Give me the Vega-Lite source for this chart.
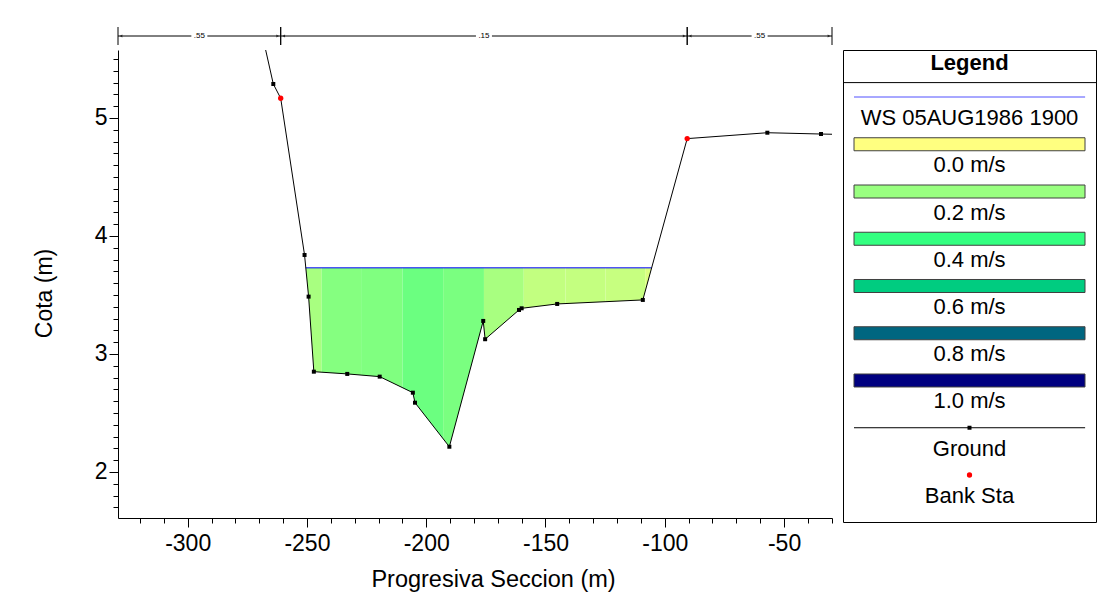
{
  "$schema": "https://vega.github.io/schema/vega-lite/v6.json",
  "background": "white",
  "padding": {"left": 33, "top": 26, "right": 5, "bottom": 5},
  "config": {"font": "Liberation Sans", "view": {"stroke": null}},
  "columns": 2,
  "spacing": {"row": 1, "column": 9},
  "datasets": {
    "ground": [
      {"x": -268.9, "z": 5.72, "bank": false},
      {"x": -264.1, "z": 5.288, "bank": false},
      {"x": -261.0, "z": 5.167, "bank": true},
      {"x": -251.0, "z": 3.839, "bank": false},
      {"x": -249.3, "z": 3.486, "bank": false},
      {"x": -247.1, "z": 2.85, "bank": false},
      {"x": -233.1, "z": 2.831, "bank": false},
      {"x": -219.5, "z": 2.808, "bank": false},
      {"x": -205.6, "z": 2.672, "bank": false},
      {"x": -204.7, "z": 2.587, "bank": false},
      {"x": -190.3, "z": 2.214, "bank": false},
      {"x": -176.1, "z": 3.28, "bank": false},
      {"x": -175.3, "z": 3.125, "bank": false},
      {"x": -161.1, "z": 3.373, "bank": false},
      {"x": -160.0, "z": 3.387, "bank": false},
      {"x": -145.1, "z": 3.424, "bank": false},
      {"x": -109.2, "z": 3.458, "bank": false},
      {"x": -90.6, "z": 4.825, "bank": true},
      {"x": -57.0, "z": 4.875, "bank": false},
      {"x": -34.5, "z": 4.864, "bank": false},
      {"x": -25.0, "z": 4.86, "bank": false}
    ],
    "strips": [
      {"x": -250.5, "xe": -243.8, "z": 3.73, "v": 0.17},
      {"x": -243.8, "xe": -227.3, "z": 3.73, "v": 0.24},
      {"x": -227.3, "xe": -209.9, "z": 3.73, "v": 0.25},
      {"x": -209.9, "xe": -192.9, "z": 3.73, "v": 0.29},
      {"x": -192.9, "xe": -175.8, "z": 3.73, "v": 0.26},
      {"x": -175.8, "xe": -159.1, "z": 3.73, "v": 0.17},
      {"x": -159.1, "xe": -141.6, "z": 3.73, "v": 0.12},
      {"x": -141.6, "xe": -124.9, "z": 3.73, "v": 0.115},
      {"x": -124.9, "xe": -108.2, "z": 3.73, "v": 0.11},
      {"x": -108.2, "xe": -105.5, "z": 3.73, "v": 0.07}
    ],
    "ws": [{"x": -250.5, "xe": -105.5, "z": 3.73}],
    "nvals": [
      {"x": -329.2, "xe": -261.0, "n": ".55"},
      {"x": -261.0, "xe": -90.6, "n": ".15"},
      {"x": -90.6, "xe": -29.9, "n": ".55"}
    ],
    "legend": [
      {"slot": 0, "kind": "ws", "label": "WS 05AUG1986 1900"},
      {"slot": 1, "kind": "vel", "v": 0.0, "label": "0.0 m/s"},
      {"slot": 2, "kind": "vel", "v": 0.2, "label": "0.2 m/s"},
      {"slot": 3, "kind": "vel", "v": 0.4, "label": "0.4 m/s"},
      {"slot": 4, "kind": "vel", "v": 0.6, "label": "0.6 m/s"},
      {"slot": 5, "kind": "vel", "v": 0.8, "label": "0.8 m/s"},
      {"slot": 6, "kind": "vel", "v": 1.0, "label": "1.0 m/s"},
      {"slot": 7, "kind": "ground", "label": "Ground"},
      {"slot": 8, "kind": "bank", "label": "Bank Sta"}
    ]
  },
  "concat": [
    {
      "width": 714,
      "height": 18,
      "data": {"name": "nvals"},
      "transform": [{"calculate": "(datum.x + datum.xe) / 2", "as": "mid"}],
      "encoding": {
        "x": {"field": "x", "type": "quantitative", "scale": {"domain": [-329.2, -29.9], "nice": false, "zero": false}, "axis": null}
      },
      "layer": [
        {"mark": {"type": "rule", "color": "black", "strokeWidth": 1},
         "encoding": {"x2": {"field": "xe"}, "y": {"datum": 0.5, "type": "quantitative", "scale": {"domain": [0, 1]}, "axis": null}}},
        {"mark": {"type": "rule", "color": "black", "strokeWidth": 1},
         "encoding": {"y": {"datum": 0, "type": "quantitative", "scale": {"domain": [0, 1]}, "axis": null}, "y2": {"datum": 1}}},
        {"mark": {"type": "rule", "color": "black", "strokeWidth": 1},
         "encoding": {"x": {"field": "xe", "type": "quantitative"}, "y": {"datum": 0, "type": "quantitative", "scale": {"domain": [0, 1]}, "axis": null}, "y2": {"datum": 1}}},
        {"mark": {"type": "point", "shape": "triangle-left", "filled": true, "color": "black", "size": 10, "xOffset": 3},
         "encoding": {"y": {"datum": 0.5, "type": "quantitative", "scale": {"domain": [0, 1]}, "axis": null}}},
        {"mark": {"type": "point", "shape": "triangle-right", "filled": true, "color": "black", "size": 10, "xOffset": -3},
         "encoding": {"x": {"field": "xe", "type": "quantitative"}, "y": {"datum": 0.5, "type": "quantitative", "scale": {"domain": [0, 1]}, "axis": null}}},
        {"mark": {"type": "point", "shape": "M-1,-0.5L1,-0.5L1,0.5L-1,0.5Z", "filled": true, "color": "white", "opacity": 1, "size": 256},
         "encoding": {"x": {"field": "mid", "type": "quantitative"}, "y": {"datum": 0.5, "type": "quantitative", "scale": {"domain": [0, 1]}, "axis": null}}},
        {"mark": {"type": "text", "fontSize": 8, "color": "black", "baseline": "middle", "align": "center"},
         "encoding": {"x": {"field": "mid", "type": "quantitative"}, "y": {"datum": 0.5, "type": "quantitative", "scale": {"domain": [0, 1]}, "axis": null}, "text": {"field": "n"}}}
      ]
    },
    {
      "width": 253,
      "height": 18,
      "data": {"values": []},
      "mark": "point",
      "encoding": {}
    },
    {
      "width": 714,
      "height": 468,
      "encoding": {
        "x": {
          "field": "x", "type": "quantitative",
          "scale": {"domain": [-329.2, -29.9], "nice": false, "zero": false},
          "axis": {
            "title": "Progresiva Seccion (m)",
            "values": [-320, -310, -300, -290, -280, -270, -260, -250, -240, -230, -220, -210, -200, -190, -180, -170, -160, -150, -140, -130, -120, -110, -100, -90, -80, -70, -60, -50, -40, -30],
            "labelExpr": "datum.value % 50 === 0 ? '' + datum.value : ''",
            "tickSize": {"condition": {"test": "datum.value % 50 !== 0", "value": 5}, "value": 9},
            "labelFontSize": 23, "titleFontSize": 23.5, "titleFontWeight": "normal",
            "labelColor": "black", "titleColor": "black", "tickColor": "black", "domainColor": "black",
            "grid": false, "labelPadding": 5, "titlePadding": 12, "titleX": 375, "labelFlush": false, "labelOverlap": false, "zindex": 1
          }
        },
        "y": {
          "field": "z", "type": "quantitative",
          "scale": {"domain": [1.61, 5.576], "nice": false, "zero": false},
          "axis": {
            "title": "Cota (m)",
            "values": [1.7, 1.8, 1.9, 2, 2.1, 2.2, 2.3, 2.4, 2.5, 2.6, 2.7, 2.8, 2.9, 3, 3.1, 3.2, 3.3, 3.4, 3.5, 3.6, 3.7, 3.8, 3.9, 4, 4.1, 4.2, 4.3, 4.4, 4.5, 4.6, 4.7, 4.8, 4.9, 5, 5.1, 5.2, 5.3, 5.4, 5.5],
            "labelExpr": "abs(datum.value - round(datum.value)) < 0.01 ? '' + round(datum.value) : ''",
            "tickSize": {"condition": {"test": "abs(datum.value - round(datum.value)) >= 0.01", "value": 5}, "value": 9},
            "labelFontSize": 23, "titleFontSize": 23, "titleFontWeight": "normal",
            "labelColor": "black", "titleColor": "black", "tickColor": "black", "domainColor": "black",
            "grid": false, "labelPadding": 2, "titlePadding": 38, "titleY": 243, "labelFlush": false, "labelOverlap": false, "zindex": 1
          }
        }
      },
      "layer": [
        {
          "data": {"name": "strips"},
          "mark": {"type": "rect", "clip": true},
          "encoding": {
            "x2": {"field": "xe"},
            "y2": {"datum": 2.1},
            "color": {
              "field": "v", "type": "quantitative",
              "scale": {"type": "linear", "domain": [0, 0.2, 0.4, 0.6, 0.8, 1.0], "range": ["#ffff80", "#99ff80", "#33ff80", "#00cc80", "#006680", "#000080"], "interpolate": "rgb"},
              "legend": null
            }
          }
        },
        {
          "data": {"name": "ground"},
          "mark": {"type": "area", "fill": "white", "clip": true},
          "encoding": {"y2": {"datum": 2.0}}
        },
        {
          "data": {"name": "ws"},
          "mark": {"type": "rule", "color": "#0000ff", "strokeWidth": 1},
          "encoding": {"x2": {"field": "xe"}}
        },
        {
          "data": {"name": "ground"},
          "mark": {"type": "line", "color": "black", "strokeWidth": 1, "clip": true}
        },
        {
          "data": {"name": "ground"},
          "transform": [{"filter": "!datum.bank"}],
          "mark": {"type": "point", "shape": "square", "filled": true, "color": "black", "size": 16, "opacity": 1, "clip": true}
        },
        {
          "data": {"name": "ground"},
          "transform": [{"filter": "datum.bank"}],
          "mark": {"type": "point", "shape": "circle", "filled": true, "color": "#ff0000", "size": 28, "opacity": 1, "clip": true}
        }
      ]
    },
    {
      "width": 253,
      "height": 472,
      "view": {"stroke": "black", "strokeWidth": 1},
      "data": {"name": "legend"},
      "layer": [
        {
          "data": {"values": [{"label": "Legend"}]},
          "mark": {"type": "text", "fontSize": 22, "fontWeight": "bold", "color": "black", "baseline": "middle", "align": "center"},
          "encoding": {
            "x": {"datum": 0.5, "type": "quantitative", "scale": {"domain": [0, 1]}, "axis": null},
            "y": {"datum": -0.713, "type": "quantitative", "scale": {"domain": [-0.995, 8.995], "reverse": true}, "axis": null},
            "text": {"field": "label"}
          }
        },
        {
          "data": {"values": [{"label": "sep"}]},
          "mark": {"type": "rule", "color": "black", "strokeWidth": 1},
          "encoding": {
            "y": {"datum": -0.305, "type": "quantitative", "scale": {"domain": [-0.995, 8.995], "reverse": true}, "axis": null}
          }
        },
        {
          "transform": [{"filter": "datum.kind === 'ws'"}],
          "mark": {"type": "rule", "color": "#5050ff", "strokeWidth": 1},
          "encoding": {
            "x": {"datum": 0.0435, "type": "quantitative", "scale": {"domain": [0, 1]}, "axis": null},
            "x2": {"datum": 0.957},
            "y": {"field": "slot", "type": "quantitative", "scale": {"domain": [-0.995, 8.995], "reverse": true}, "axis": null}
          }
        },
        {
          "transform": [{"filter": "datum.kind === 'vel'"}],
          "mark": {"type": "point", "shape": "M-1,-0.0563L1,-0.0563L1,0.0563L-1,0.0563Z", "filled": true, "size": 53361, "stroke": "#404040", "strokeWidth": 1, "opacity": 1},
          "encoding": {
            "x": {"datum": 0.5, "type": "quantitative", "scale": {"domain": [0, 1]}, "axis": null},
            "y": {"field": "slot", "type": "quantitative", "scale": {"domain": [-0.995, 8.995], "reverse": true}, "axis": null},
            "fill": {
              "field": "v", "type": "quantitative",
              "scale": {"type": "linear", "domain": [0, 0.2, 0.4, 0.6, 0.8, 1.0], "range": ["#ffff80", "#99ff80", "#33ff80", "#00cc80", "#006680", "#000080"], "interpolate": "rgb"},
              "legend": null
            }
          }
        },
        {
          "transform": [{"filter": "datum.kind === 'ground'"}],
          "mark": {"type": "rule", "color": "black", "strokeWidth": 1},
          "encoding": {
            "x": {"datum": 0.0435, "type": "quantitative", "scale": {"domain": [0, 1]}, "axis": null},
            "x2": {"datum": 0.957},
            "y": {"field": "slot", "type": "quantitative", "scale": {"domain": [-0.995, 8.995], "reverse": true}, "axis": null}
          }
        },
        {
          "transform": [{"filter": "datum.kind === 'ground'"}],
          "mark": {"type": "point", "shape": "square", "filled": true, "color": "black", "size": 16, "opacity": 1},
          "encoding": {
            "x": {"datum": 0.5, "type": "quantitative", "scale": {"domain": [0, 1]}, "axis": null},
            "y": {"field": "slot", "type": "quantitative", "scale": {"domain": [-0.995, 8.995], "reverse": true}, "axis": null}
          }
        },
        {
          "transform": [{"filter": "datum.kind === 'bank'"}],
          "mark": {"type": "point", "shape": "circle", "filled": true, "color": "#ff0000", "size": 28, "opacity": 1},
          "encoding": {
            "x": {"datum": 0.5, "type": "quantitative", "scale": {"domain": [0, 1]}, "axis": null},
            "y": {"field": "slot", "type": "quantitative", "scale": {"domain": [-0.995, 8.995], "reverse": true}, "axis": null}
          }
        },
        {
          "mark": {"type": "text", "fontSize": 22, "color": "black", "baseline": "middle", "align": "center", "dy": 21},
          "encoding": {
            "x": {"datum": 0.5, "type": "quantitative", "scale": {"domain": [0, 1]}, "axis": null},
            "y": {"field": "slot", "type": "quantitative", "scale": {"domain": [-0.995, 8.995], "reverse": true}, "axis": null},
            "text": {"field": "label"}
          }
        }
      ]
    }
  ]
}
